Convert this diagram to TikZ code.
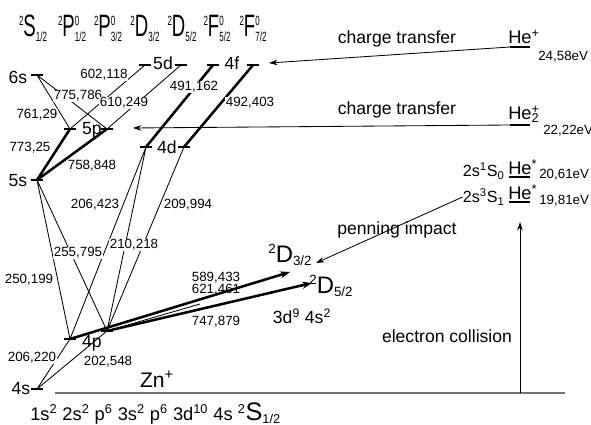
\documentclass[tikz,border=0pt]{standalone}
\usepackage{fontspec}
\setmainfont{Liberation Sans}
\usetikzlibrary{arrows.meta}

\tikzset{
  lvl/.style={line width=0.8pt},
  trans/.style={line width=0.6pt},
  strong/.style={line width=1.8pt},
  ground/.style={line width=1.8pt, black!55},
  num/.style={font=\fontsize{9.5}{10}\selectfont, inner sep=0.6pt, fill=white},
  txt/.style={font=\fontsize{12.5}{14}\selectfont, inner sep=0pt},
  he/.style={font=\fontsize{13}{14}\selectfont, inner sep=0pt},
  ev/.style={font=\fontsize{9.5}{12}\selectfont, inner sep=0pt},
  big/.style={font=\fontsize{22}{24}\selectfont, inner sep=0pt},
}
\newcommand{\narrow}[1]{\scalebox{0.6}[1]{#1}}
\newcommand{\scr}[1]{{\fontsize{9.5}{10}\selectfont #1}}
\newcommand{\trm}[3]{\raisebox{0.36em}{\scr{2}}#1\ooalign{\raisebox{0.36em}{\scr{#2}}\cr\raisebox{-0.13em}{\scr{#3}}}}

\begin{document}
\begin{tikzpicture}[>={Stealth[length=6pt,width=4pt]}, x=0.025cm, y=-0.025cm]
\useasboundingbox (0,0) rectangle (591,425);

% term symbols on top
\node[big, anchor=base] (tS)   at (33,37)  {\narrow{\trm{S}{}{1/2}}};
\node[big, anchor=base] (tP1)  at (72,37)  {\narrow{\trm{P}{0}{1/2}}};
\node[big, anchor=base] (tP3)  at (108,37) {\narrow{\trm{P}{0}{3/2}}};
\node[big, anchor=base] (tD3)  at (145,37) {\narrow{\trm{D}{}{3/2}}};
\node[big, anchor=base] (tD5)  at (182,37) {\narrow{\trm{D}{}{5/2}}};
\node[big, anchor=base] (tF5)  at (217,37) {\narrow{\trm{F}{0}{5/2}}};
\node[big, anchor=base] (tF7)  at (253,37) {\narrow{\trm{F}{0}{7/2}}};

% levels of Zn+
\coordinate (s6)  at (37,75);
\coordinate (p5a) at (70,129);
\coordinate (p5b) at (107,129);
\coordinate (d5a) at (145,65);
\coordinate (d5b) at (181,65);
\coordinate (f4a) at (213,65);
\coordinate (f4b) at (253,65);
\coordinate (s5)  at (37,180);
\coordinate (d4a) at (146,147);
\coordinate (d4b) at (184,147);
\coordinate (p4a) at (70,339);
\coordinate (p4b) at (107,331);
\coordinate (s4)  at (37,389);
\coordinate (d32) at (290,272);
\coordinate (d52) at (312,283);
\coordinate (c621) at (200,304);

\foreach \c in {s6,p5a,p5b,d5a,d5b,f4a,f4b,s5,d4a,d4b,p4a,p4b,s4}
  \draw[lvl] (\c) ++(-6,0) -- ++(12,0);

\node[txt] (n6s) at (18,77)  {6s};
\node[txt] (n5p) at (92,130) {5p};
\node[txt] (n5d) at (163,63) {5d};
\node[txt] (n4f) at (232,63) {4f};
\node[txt] (n5s) at (18,181) {5s};
\node[txt] (n4d) at (167,147) {4d};
\node[txt] (n4p) at (92,343) {4p};
\node[txt] (n4s) at (21,389) {4s};

% transitions
\draw[trans] (s6) -- (p5a) (s6) -- (p5b) (d5a) -- (p5a) (d5b) -- (p5b);
\draw[strong] (p5a) -- (s5) (p5b) -- (s5) (f4a) -- (d4a) (f4b) -- (d4b);
\draw[trans] (s5) -- (p4a) (s5) -- (p4b) (d4a) -- (p4a) (d4a) -- (p4b)
  (d4b) -- (p4b) (p4a) -- (s4) (p4b) -- (s4);
\draw[strong,-{Stealth[length=7pt,width=5pt]}] (p4a) -- (d32);
\draw[strong,-{Stealth[length=7pt,width=5pt]}] (p4b) -- (d52);
\draw[trans] (p4b) -- (c621);

% wavelengths
\node[num] (w602) at (104,75)  {602,118};
\node[num] (w775) at (78,96)   {775,786};
\node[num] (w761) at (37,115)  {761,29};
\node[num] (w610) at (124,103) {610,249};
\node[num] (w773) at (30,148)  {773,25};
\node[num] (w758) at (92,166)  {758,848};
\node[num] (w491) at (194,87)  {491,162};
\node[num] (w492) at (250,103) {492,403};
\node[num] (w206a) at (95,205) {206,423};
\node[num] (w209) at (188,205) {209,994};
\node[num] (w255) at (78,253)  {255,795};
\node[num] (w210) at (134,245) {210,218};
\node[num] (w250) at (29,280)  {250,199};
\node[num] (w206b) at (32,358) {206,220};
\node[num] (w202) at (108,362) {202,548};
\node[num, fill=none] (w589) at (216,278) {589,433};
\node[num, fill=none] (w621) at (216,290) {621,461};
\node[num, fill=none] (w747) at (216,322) {747,879};

\node[big, font=\fontsize{17}{18}\selectfont] (nd3) at (290,255) {\trm{D}{}{3/2}};
\node[big, font=\fontsize{17}{18}\selectfont] (nd5) at (331,286) {\trm{D}{}{5/2}};
\node[txt] (cfg2) at (302,316) {3d\textsuperscript{9} 4s\textsuperscript{2}};

% ground state
\coordinate (g0) at (55,393);
\coordinate (g1) at (565,393);
\draw[ground] (g0) -- (g1);
\node[txt, font=\fontsize{15}{16}\selectfont, anchor=base] (zn) at (157,387) {Zn\textsuperscript{+}};
\node[txt, font=\fontsize{13}{14}\selectfont, anchor=base west] (cfg1) at (30,420)
  {1s\textsuperscript{2} 2s\textsuperscript{2} p\textsuperscript{6} 3s\textsuperscript{2} p\textsuperscript{6} 3d\textsuperscript{10} 4s \textsuperscript{2}{\fontsize{18}{18}\selectfont S}\textsubscript{1/2}};

% helium
\coordinate (he1) at (510,47);
\coordinate (he2) at (510,125);
\coordinate (ct1e) at (269,63);
\coordinate (ct2e) at (133,128);
\draw[lvl] (he1) -- ++(20,0);
\draw[lvl] (he2) -- ++(20,0);
\node[he, anchor=south west] (hep) at (508,44) {He\textsuperscript{+}};
\node[he, anchor=south west] (he2p) at (508,123) {He\ooalign{\textsuperscript{+}\cr\textsubscript{2}}};
\node[ev, anchor=west] (ev1) at (538,57)  {24,58eV};
\node[ev, anchor=west] (ev2) at (543,131) {22,22eV};
\draw[trans,->] (he1) -- (ct1e);
\draw[trans,->] (he2) -- (ct2e);
\node[txt] (lct1) at (397,39)  {charge transfer};
\node[txt] (lct2) at (397,110) {charge transfer};

\coordinate (hm1) at (509,177);
\coordinate (hm3) at (509,202);
\draw[lvl] (hm1) -- ++(21,0);
\draw[lvl] (hm3) -- ++(21,0);
\node[he, anchor=south west] (hs1) at (508,175) {He\textsuperscript{*}};
\node[he, anchor=south west] (hs3) at (508,200) {He\textsuperscript{*}};
\node[txt, font=\fontsize{11.5}{13}\selectfont, anchor=east] (t1) at (505,171) {2s\textsuperscript{1}S\textsubscript{0}};
\node[txt, font=\fontsize{11.5}{13}\selectfont, anchor=east] (t3) at (505,197) {2s\textsuperscript{3}S\textsubscript{1}};
\node[ev, anchor=west] (ev3) at (539,175) {20,61eV};
\node[ev, anchor=west] (ev4) at (539,201) {19,81eV};

\coordinate (pen) at (316,263);
\draw[trans,->] (t3.west) -- (pen);
\node[txt] (lpen) at (397,230) {penning impact};

\coordinate (ec0) at (520,393);
\coordinate (ec1) at (520,222);
\draw[trans,->] (ec0) -- (ec1);
\node[txt] (lec) at (447,336) {electron collision};
\end{tikzpicture}
\end{document}
